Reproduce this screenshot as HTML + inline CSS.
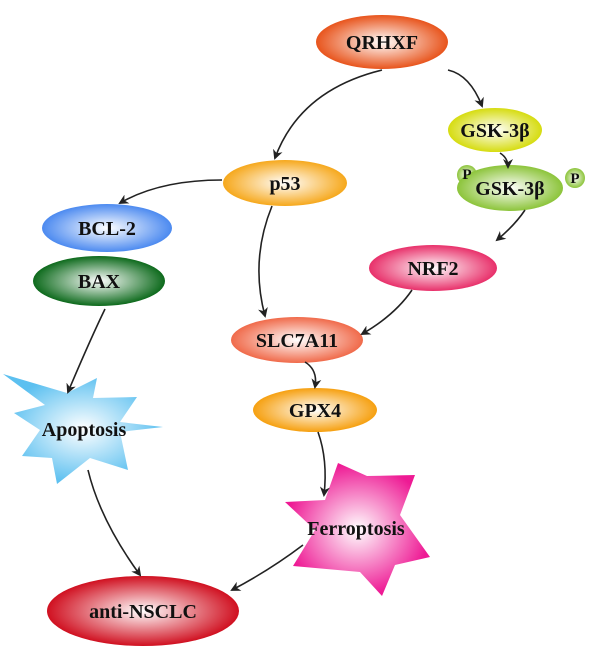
<!DOCTYPE html><html><head><style>body{margin:0;background:#fff}</style></head><body>
<svg width="600" height="667" viewBox="0 0 600 667" xmlns="http://www.w3.org/2000/svg">
<defs>
<radialGradient id="g1"><stop offset="0" stop-color="#fff"/><stop offset="1" stop-color="#e8541c"/></radialGradient>
<radialGradient id="g2"><stop offset="0" stop-color="#fff"/><stop offset="1" stop-color="#d6dc10"/></radialGradient>
<radialGradient id="g3"><stop offset="0" stop-color="#fff"/><stop offset="1" stop-color="#8cc43a"/></radialGradient>
<radialGradient id="g4"><stop offset="0" stop-color="#fff"/><stop offset="1" stop-color="#f6a81c"/></radialGradient>
<radialGradient id="g5"><stop offset="0" stop-color="#fff"/><stop offset="1" stop-color="#4c8af0"/></radialGradient>
<radialGradient id="g6"><stop offset="0" stop-color="#fff"/><stop offset="1" stop-color="#0d6a1c"/></radialGradient>
<radialGradient id="g7"><stop offset="0" stop-color="#fff"/><stop offset="1" stop-color="#e8306a"/></radialGradient>
<radialGradient id="g8"><stop offset="0" stop-color="#fff"/><stop offset="1" stop-color="#f06a4a"/></radialGradient>
<radialGradient id="g9"><stop offset="0" stop-color="#fff"/><stop offset="1" stop-color="#f6a010"/></radialGradient>
<radialGradient id="g10"><stop offset="0" stop-color="#fff"/><stop offset="1" stop-color="#d01020"/></radialGradient>
<radialGradient id="g11"><stop offset="0" stop-color="#fff"/><stop offset="1" stop-color="#5cc0f0"/></radialGradient>
<radialGradient id="g12"><stop offset="0" stop-color="#fff"/><stop offset="1" stop-color="#ee1a94"/></radialGradient>
<marker id="a" markerWidth="10" markerHeight="10" refX="8" refY="5" orient="auto" markerUnits="userSpaceOnUse"><path d="M0,0 L10,5 L0,10 L3,5z" fill="#222"/></marker>
</defs>
<polygon points="3,374 67,393 97,378 93,398 137,397 120,422 163,427 120,432 128,470 90,458 57,484 52,458 22,456 40,430 14,413 45,405" fill="url(#g11)"/>
<polygon points="338,463 367,476 415,475 400,515 430,557 395,565 382,596 360,572 293,566 315,530 285,502 325,500" fill="url(#g12)"/>
<ellipse cx="382" cy="42" rx="66" ry="27" fill="url(#g1)"/>
<ellipse cx="495" cy="130" rx="47" ry="22" fill="url(#g2)"/>
<circle cx="467" cy="175" r="10" fill="url(#g3)"/><circle cx="575" cy="178" r="10" fill="url(#g3)"/>
<ellipse cx="510" cy="188" rx="53" ry="23" fill="url(#g3)"/>
<ellipse cx="285" cy="183" rx="62" ry="23" fill="url(#g4)"/>
<ellipse cx="107" cy="228" rx="65" ry="24" fill="url(#g5)"/>
<ellipse cx="99" cy="281" rx="66" ry="25" fill="url(#g6)"/>
<ellipse cx="433" cy="268" rx="64" ry="23" fill="url(#g7)"/>
<ellipse cx="297" cy="340" rx="66" ry="23" fill="url(#g8)"/>
<ellipse cx="315" cy="410" rx="62" ry="22" fill="url(#g9)"/>
<ellipse cx="143" cy="611" rx="96" ry="35" fill="url(#g10)"/>
<g fill="none" stroke="#222" stroke-width="1.6" marker-end="url(#a)">
<path d="M382,70 Q300,90 275,158"/>
<path d="M448,70 Q470,75 482,106"/>
<path d="M500,153 Q508,158 508,167"/>
<path d="M525,210 Q515,225 497,240"/>
<path d="M222,180 Q160,180 120,203"/>
<path d="M272,206 Q250,260 265,316"/>
<path d="M412,290 Q395,315 362,334"/>
<path d="M305,362 Q318,370 315,387"/>
<path d="M318,432 Q328,460 324,495"/>
<path d="M105,309 Q90,340 68,392"/>
<path d="M88,470 Q100,520 140,575"/>
<path d="M303,545 Q270,570 232,590"/>
</g>
<g font-size="20" font-family="Liberation Serif, serif" font-weight="bold" text-anchor="middle" dominant-baseline="central" fill="#111">
<text x="382" y="43">QRHXF</text><text x="495" y="131">GSK-3β</text><text x="510" y="189">GSK-3β</text>
<text x="467" y="175" font-size="15">P</text><text x="575" y="179" font-size="15">P</text>
<text x="285" y="184">p53</text><text x="107" y="229">BCL-2</text><text x="99" y="282">BAX</text>
<text x="433" y="269">NRF2</text><text x="297" y="341">SLC7A11</text><text x="315" y="411">GPX4</text>
<text x="84" y="430">Apoptosis</text><text x="356" y="529">Ferroptosis</text><text x="143" y="612">anti-NSCLC</text>
</g>
</svg></body></html>
